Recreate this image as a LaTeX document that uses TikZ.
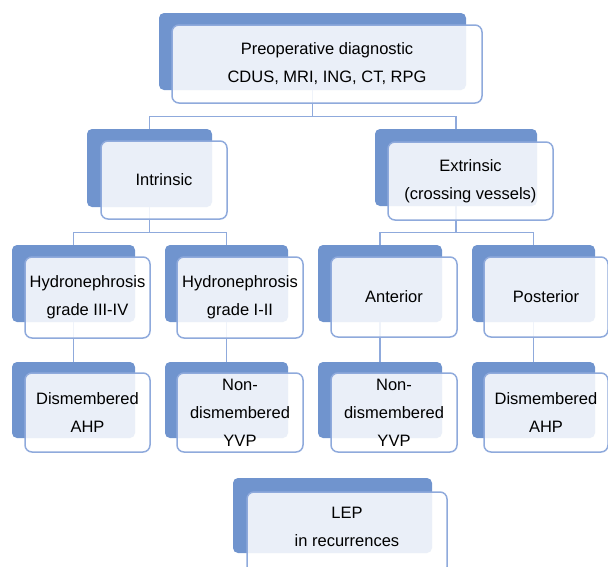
\documentclass[tikz,border=0pt]{standalone}
\usepackage{fontspec}
\setmainfont{Liberation Sans}
\definecolor{backblue}{RGB}{112,148,206}
\definecolor{lineblue}{RGB}{143,170,220}
\begin{document}
\begin{tikzpicture}[x=1pt,y=-1pt,
  backbox/.style={fill=backblue, draw=none, rounded corners=5pt, inner sep=0pt},
  frontbox/.style={fill=white, fill opacity=0.86, text opacity=1, draw=lineblue, draw opacity=1,
    line width=1.5pt, rounded corners=7pt, inner sep=0pt, align=center,
    font=\fontsize{16.5}{28}\selectfont, text=black},
  conn/.style={draw=lineblue, line width=1.3pt}]
\useasboundingbox (0,0) rectangle (608,566);

% back boxes
\node[backbox, minimum width=307, minimum height=77] (bTop) at (312.5,51.5) {};
\node[backbox, minimum width=125, minimum height=78] (bIntr) at (149.5,168) {};
\node[backbox, minimum width=162, minimum height=77] (bExt) at (456,167.5) {};
\node[backbox, minimum width=123, minimum height=77] (bH34) at (73.5,283.5) {};
\node[backbox, minimum width=123, minimum height=77] (bH12) at (226.5,283.5) {};
\node[backbox, minimum width=124, minimum height=77] (bAnt) at (380,283.5) {};
\node[backbox, minimum width=123, minimum height=77] (bPost) at (533.5,283.5) {};
\node[backbox, minimum width=123, minimum height=76] (bD1) at (73.5,400) {};
\node[backbox, minimum width=123, minimum height=76] (bN1) at (226.5,400) {};
\node[backbox, minimum width=124, minimum height=76] (bN2) at (380,400) {};
\node[backbox, minimum width=123, minimum height=76] (bD2) at (533.5,400) {};
\node[backbox, minimum width=199, minimum height=75] (bLEP) at (332.5,515.5) {};

% connectors
\draw[conn] (bTop.south) -- ++(0,26) -| (bIntr.north);
\draw[conn] (bTop.south) -- ++(0,26) -| (bExt.north);
\draw[conn] (bIntr.south) -- ++(0,25) -| (bH34.north);
\draw[conn] (bIntr.south) -- ++(0,25) -| (bH12.north);
\draw[conn] (bExt.south) -- ++(0,26) -| (bAnt.north);
\draw[conn] (bExt.south) -- ++(0,26) -| (bPost.north);
\draw[conn] (bH34.south) -- (bD1.north);
\draw[conn] (bH12.south) -- (bN1.north);
\draw[conn] (bAnt.south) -- (bN2.north);
\draw[conn] (bPost.south) -- (bD2.north);

% front boxes
\node[frontbox, minimum width=310, minimum height=78] (fTop) at (327,64) {Preoperative diagnostic\\CDUS, MRI, ING, CT, RPG};
\node[frontbox, minimum width=126, minimum height=78] (fIntr) at (164,180) {Intrinsic};
\node[frontbox, minimum width=165, minimum height=78] (fExt) at (470.5,181) {Extrinsic\\(crossing vessels)};
\node[frontbox, minimum width=125, minimum height=81] (fH34) at (87.5,297.5) {Hydronephrosis\\grade III-IV};
\node[frontbox, minimum width=126, minimum height=81] (fH12) at (240,297.5) {Hydronephrosis\\grade I-II};
\node[frontbox, minimum width=126, minimum height=80] (fAnt) at (394,297) {Anterior};
\node[frontbox, minimum width=124, minimum height=80] (fPost) at (546,297) {Posterior};
\node[frontbox, minimum width=125, minimum height=79] (fD1) at (87.5,412.5) {Dismembered\\AHP};
\node[frontbox, minimum width=126, minimum height=79] (fN1) at (240,412.5) {Non-\\dismembered\\YVP};
\node[frontbox, minimum width=126, minimum height=79] (fN2) at (394,412.5) {Non-\\dismembered\\YVP};
\node[frontbox, minimum width=124, minimum height=79] (fD2) at (546,412.5) {Dismembered\\AHP};
\node[frontbox, minimum width=200, minimum height=82, text depth=12pt] (fLEP) at (347,533) {LEP\\in recurrences};
\end{tikzpicture}
\end{document}
